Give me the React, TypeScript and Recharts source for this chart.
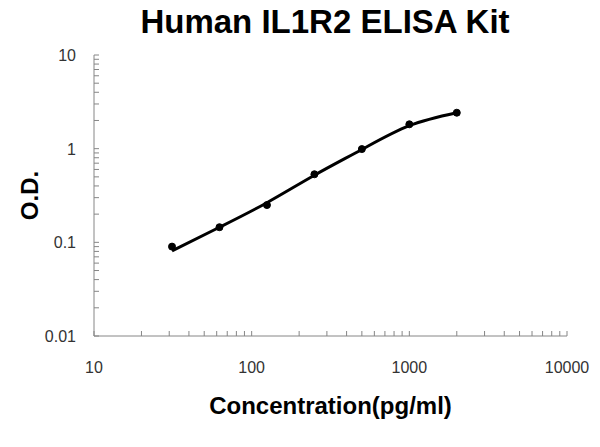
import React from "react";
import { LineChart, Line, XAxis, YAxis, Label } from "recharts";

const concentrations = [31.25, 62.5, 125, 250, 500, 1000, 2000];
const odMeasured = [0.09, 0.145, 0.25, 0.533, 0.99, 1.82, 2.42];
const odFit = [0.081, 0.145, 0.265, 0.52, 0.98, 1.76, 2.42];

const xTicks = [10, 20, 30, 40, 50, 60, 70, 80, 90, 100, 200, 300, 400, 500, 600, 700, 800, 900, 1000, 2000, 3000, 4000, 5000, 6000, 7000, 8000, 9000, 10000];
const yTicks = [0.01, 0.02, 0.03, 0.04, 0.05, 0.06, 0.07, 0.08, 0.09, 0.1, 0.2, 0.3, 0.4, 0.5, 0.6, 0.7, 0.8, 0.9, 1, 2, 3, 4, 5, 6, 7, 8, 9, 10];
const xLabels = [10, 100, 1000, 10000];
const yLabels = [0.01, 0.1, 1, 10];

const data = concentrations.map((c, i) => ({ conc: c, measured: odMeasured[i], fit: odFit[i] }));

const axisGray = "#868686";
const labelFont = "'Liberation Sans', Arial, sans-serif";

// ticks drawn inward, labels only on decades
const XTick = (props: any) => {
  const { x, y, payload } = props;
  const v = payload.value;
  return (
    <g>
      <line x1={x} y1={y} x2={x} y2={y - 5} stroke={axisGray} strokeWidth={1} />
      {xLabels.includes(v) && (
        <text x={x} y={y + 37} textAnchor="middle" fontSize={16} fill="#333" fontFamily={labelFont}>
          {String(v)}
        </text>
      )}
    </g>
  );
};

const YTick = (props: any) => {
  const { x, y, payload } = props;
  const v = payload.value;
  return (
    <g>
      <line x1={x} y1={y} x2={x + 5} y2={y} stroke={axisGray} strokeWidth={1} />
      {yLabels.some((l) => Math.abs(l - v) < 1e-9) && (
        <text x={x - 18} y={y + 6} textAnchor="end" fontSize={16} fill="#333" fontFamily={labelFont}>
          {String(v)}
        </text>
      )}
    </g>
  );
};

const YTitle = (props: any) => {
  const { viewBox } = props;
  const cx = 29;
  const cy = viewBox.y + viewBox.height / 2;
  return (
    <text
      x={cx}
      y={cy}
      transform={`rotate(-90 ${cx} ${cy})`}
      textAnchor="middle"
      dominantBaseline="central"
      fontSize={24}
      fontWeight="bold"
      fill="#000"
      fontFamily={labelFont}
    >
      O.D.
    </text>
  );
};

const XTitle = (props: any) => {
  const { viewBox } = props;
  const cx = viewBox.x + viewBox.width / 2;
  return (
    <text x={cx} y={405} textAnchor="middle" dominantBaseline="central" fontSize={24} fontWeight="bold" fill="#000" fontFamily={labelFont}>
      Concentration(pg/ml)
    </text>
  );
};

export default function App() {
  return (
    <div style={{ position: "absolute", left: 0, top: 0, width: 600, height: 447, background: "#fff" }}>
      <div
        style={{
          position: "absolute",
          left: 0,
          top: 3,
          width: 650,
          textAlign: "center",
          fontFamily: labelFont,
          fontWeight: "bold",
          fontSize: 33,
          color: "#000",
          whiteSpace: "nowrap",
        }}
      >
        Human IL1R2 ELISA Kit
      </div>
      <LineChart width={600} height={447} data={data} margin={{ top: 55, right: 33, left: 0, bottom: 0 }}>
        <XAxis
          dataKey="conc"
          type="number"
          scale="log"
          domain={[10, 10000]}
          ticks={xTicks}
          interval={0}
          tickSize={0}
          tickMargin={0}
          tickLine={false}
          tick={<XTick />}
          stroke={axisGray}
          height={111}
          allowDataOverflow
        >
          <Label content={<XTitle />} />
        </XAxis>
        <YAxis
          type="number"
          scale="log"
          domain={[0.01, 10]}
          ticks={yTicks}
          interval={0}
          tickSize={0}
          tickMargin={0}
          tickLine={false}
          tick={<YTick />}
          stroke={axisGray}
          width={94}
          allowDataOverflow
        >
          <Label content={<YTitle />} />
        </YAxis>
        <Line dataKey="fit" type="natural" stroke="#000" strokeWidth={3} dot={false} isAnimationActive={false} />
        <Line
          dataKey="measured"
          type="monotone"
          stroke="none"
          dot={{ r: 3.5, fill: "#000", stroke: "#000", strokeWidth: 1 }}
          activeDot={false}
          isAnimationActive={false}
        />
      </LineChart>
    </div>
  );
}
